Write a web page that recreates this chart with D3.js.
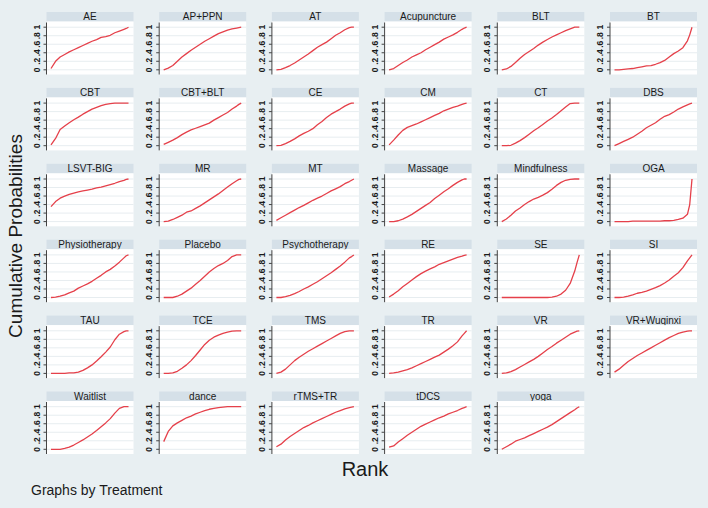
<!DOCTYPE html>
<html lang="en">
<head>
  <meta charset="utf-8">
  <title>Cumulative ranking probabilities</title>
  <script src="https://d3js.org/d3.v7.min.js"></script>
  <style>
    body { margin: 0; background: #e8eff2; }
    text { font-family: Arial, "Liberation Sans", sans-serif; fill: #1a1a1a; }
  </style>
</head>
<body>
<script>
  var ranks = [1, 3, 5, 7, 9, 11, 13, 15, 17, 19, 21, 23, 25, 27, 29, 31, 33, 34, 35];

  var treatments = ["AE", "AP+PPN", "AT", "Acupuncture", "BLT", "BT",
    "CBT", "CBT+BLT", "CE", "CM", "CT", "DBS",
    "LSVT-BIG", "MR", "MT", "Massage", "Mindfulness", "OGA",
    "Physiotherapy", "Placebo", "Psychotherapy", "RE", "SE", "SI",
    "TAU", "TCE", "TMS", "TR", "VR", "VR+Wuqinxi",
    "Waitlist", "dance", "rTMS+TR", "tDCS", "yoga"];

  // cumulative probability at each rank, one row per treatment (same order)
  var cumProb = [
    [.03, .2, .3, .36, .42, .47, .52, .57, .62, .67, .71, .76, .78, .81, .87, .91, .95, .97, 1],
    [0, .04, .1, .2, .3, .38, .46, .53, .6, .67, .73, .79, .85, .89, .93, .96, .98, .99, 1],
    [0, .01, .05, .1, .16, .23, .3, .37, .45, .53, .59, .65, .73, .81, .87, .94, .99, 1, 1],
    [0, .03, .1, .17, .23, .3, .35, .4, .47, .53, .59, .65, .72, .77, .82, .88, .95, .98, 1],
    [0, .02, .08, .17, .27, .36, .43, .5, .58, .65, .71, .77, .82, .87, .92, .96, 1, 1, 1],
    [0, 0, .01, .02, .03, .05, .07, .09, .1, .13, .17, .22, .3, .38, .44, .52, .68, .82, 1],
    [.02, .17, .38, .46, .54, .61, .67, .74, .8, .86, .9, .94, .97, .99, 1, 1, 1, 1, 1],
    [.03, .08, .13, .19, .26, .32, .37, .41, .45, .49, .53, .6, .66, .72, .78, .86, .93, .97, 1],
    [0, .01, .05, .1, .16, .23, .29, .34, .4, .49, .57, .66, .74, .8, .86, .93, .98, 1, 1],
    [.02, .13, .25, .36, .43, .47, .51, .56, .61, .66, .71, .76, .82, .86, .9, .93, .97, .99, 1],
    [0, 0, .01, .06, .12, .19, .27, .35, .42, .5, .58, .65, .73, .82, .91, .99, 1, 1, 1],
    [0, .05, .1, .15, .2, .27, .34, .42, .48, .54, .62, .69, .73, .79, .86, .91, .96, .98, 1],
    [.35, .47, .55, .6, .64, .67, .7, .72, .74, .76, .79, .81, .84, .87, .9, .94, .97, .99, 1],
    [0, .01, .05, .1, .15, .22, .25, .31, .37, .44, .51, .58, .65, .73, .81, .89, .96, .99, 1],
    [.03, .09, .15, .21, .27, .33, .38, .44, .5, .55, .6, .66, .72, .77, .82, .89, .94, .97, 1],
    [0, 0, .02, .06, .11, .17, .24, .31, .38, .45, .54, .62, .7, .77, .85, .92, .98, 1, 1],
    [0, .06, .15, .25, .32, .4, .47, .53, .57, .62, .68, .76, .85, .92, .97, .99, 1, 1, 1],
    [0, 0, 0, 0, .01, .01, .01, .01, .01, .01, .01, .02, .02, .03, .05, .08, .17, .4, 1],
    [0, .01, .03, .06, .11, .15, .22, .27, .32, .38, .45, .52, .6, .66, .74, .83, .93, .98, 1],
    [0, 0, 0, .03, .08, .15, .22, .31, .4, .5, .6, .68, .75, .8, .87, .96, 1, 1, 1],
    [0, 0, .02, .05, .09, .14, .2, .25, .31, .37, .44, .51, .58, .66, .74, .83, .93, .96, 1],
    [.01, .08, .16, .25, .33, .41, .49, .56, .62, .67, .72, .78, .82, .86, .9, .94, .97, .99, 1],
    [0, 0, 0, 0, 0, 0, 0, 0, 0, 0, 0, .01, .03, .08, .17, .33, .62, .82, 1],
    [0, 0, .01, .03, .06, .1, .12, .15, .19, .23, .28, .34, .41, .5, .58, .7, .86, .93, 1],
    [0, 0, 0, 0, .01, .01, .03, .07, .13, .2, .29, .39, .5, .62, .79, .92, .98, 1, 1],
    [0, 0, .01, .05, .12, .2, .3, .42, .55, .68, .78, .85, .9, .94, .97, .99, 1, 1, 1],
    [0, .03, .1, .2, .3, .38, .45, .52, .58, .64, .7, .76, .82, .88, .94, .98, 1, 1, 1],
    [0, .01, .03, .06, .09, .13, .18, .23, .28, .33, .38, .43, .5, .57, .65, .74, .88, .94, 1],
    [0, .01, .04, .09, .15, .21, .27, .33, .4, .48, .56, .63, .71, .78, .85, .92, .97, .99, 1],
    [.03, .1, .19, .28, .35, .42, .48, .54, .6, .66, .72, .78, .84, .89, .94, .97, .99, 1, 1],
    [0, 0, 0, .02, .05, .1, .16, .22, .29, .36, .44, .53, .62, .72, .85, .96, 1, 1, 1],
    [.18, .42, .55, .62, .68, .74, .78, .83, .87, .91, .94, .96, .98, .99, 1, 1, 1, 1, 1],
    [.06, .12, .22, .3, .37, .44, .51, .56, .62, .67, .72, .77, .82, .87, .91, .95, .98, .99, 1],
    [.05, .08, .17, .25, .33, .4, .47, .54, .59, .64, .69, .74, .78, .83, .87, .91, .96, .98, 1],
    [0, .06, .12, .19, .23, .27, .32, .37, .42, .47, .52, .58, .65, .72, .79, .86, .93, .97, 1]
  ];

  var yTicks = [0, .2, .4, .6, .8, 1];

  var w = 708, h = 508;
  var colX0 = 46.5, colStep = 112.7;
  var rowY0 = 12, rowStep = 75.9;
  var panelW = 87, stripH = 9.5, plotH = 53;

  var svg = d3.select("body").append("svg")
    .attr("width", w)
    .attr("height", h);

  svg.append("rect").attr("width", w).attr("height", h).attr("fill", "#e8eff2");

  var x = d3.scaleLinear().domain([1, 35]).range([4.5, panelW - 5]);
  var y = d3.scaleLinear().domain([0, 1]).range([stripH + plotH - 4.7, stripH + 5.7]);

  var line = d3.line()
    .x(function(d) { return x(d[0]); })
    .y(function(d) { return y(d[1]); });

  treatments.forEach(function(name, i) {
    var col = i % 6, row = Math.floor(i / 6);
    var g = svg.append("g")
      .attr("transform", "translate(" + (colX0 + col * colStep) + "," + (rowY0 + row * rowStep) + ")");

    // title strip
    g.append("rect").attr("width", panelW).attr("height", stripH).attr("fill", "#d5e0e8");
    g.append("text")
      .attr("x", panelW / 2).attr("y", stripH - 1.5)
      .attr("text-anchor", "middle")
      .style("font-size", "10px")
      .text(name);

    // plot region + faint grid
    g.append("rect").attr("y", stripH).attr("width", panelW).attr("height", plotH).attr("fill", "#fff");

    g.selectAll(".grid").data(yTicks).enter().append("line")
      .attr("x1", 0).attr("x2", panelW)
      .attr("y1", function(d) { return y(d); }).attr("y2", function(d) { return y(d); })
      .attr("stroke", "#e7edf0").attr("stroke-width", 1);

    // y axis
    g.append("line")
      .attr("x1", 0).attr("x2", 0).attr("y1", stripH + 1).attr("y2", stripH + plotH)
      .attr("stroke", "#444").attr("stroke-width", 1);
    g.selectAll(".tk").data(yTicks).enter().append("line")
      .attr("x1", -3).attr("x2", 0)
      .attr("y1", function(d) { return y(d); }).attr("y2", function(d) { return y(d); })
      .attr("stroke", "#444");
    g.selectAll(".tl").data(yTicks).enter().append("text")
      .attr("transform", function(d) { return "translate(-7," + y(d) + ") rotate(-90)"; })
      .attr("text-anchor", "middle")
      .style("font-size", "8.5px")
      .style("font-weight", "bold")
      .text(function(d) { return d === 0 ? "0" : d === 1 ? "1" : String(d).replace("0.", "."); });

    var pts = ranks.map(function(r, k) { return [r, cumProb[i][k]]; });
    g.append("path")
      .attr("d", line(pts))
      .attr("fill", "none")
      .attr("stroke", "#e5404a")
      .attr("stroke-width", 1.3)
      .attr("stroke-linejoin", "round");
  });

  svg.append("text")
    .attr("transform", "translate(22,236) rotate(-90)")
    .attr("text-anchor", "middle")
    .style("font-size", "19px")
    .text("Cumulative Probabilities");

  svg.append("text")
    .attr("x", 365).attr("y", 476)
    .attr("text-anchor", "middle")
    .style("font-size", "20px")
    .text("Rank");

  svg.append("text")
    .attr("x", 31).attr("y", 495)
    .style("font-size", "14px")
    .text("Graphs by Treatment");
</script>
</body>
</html>
